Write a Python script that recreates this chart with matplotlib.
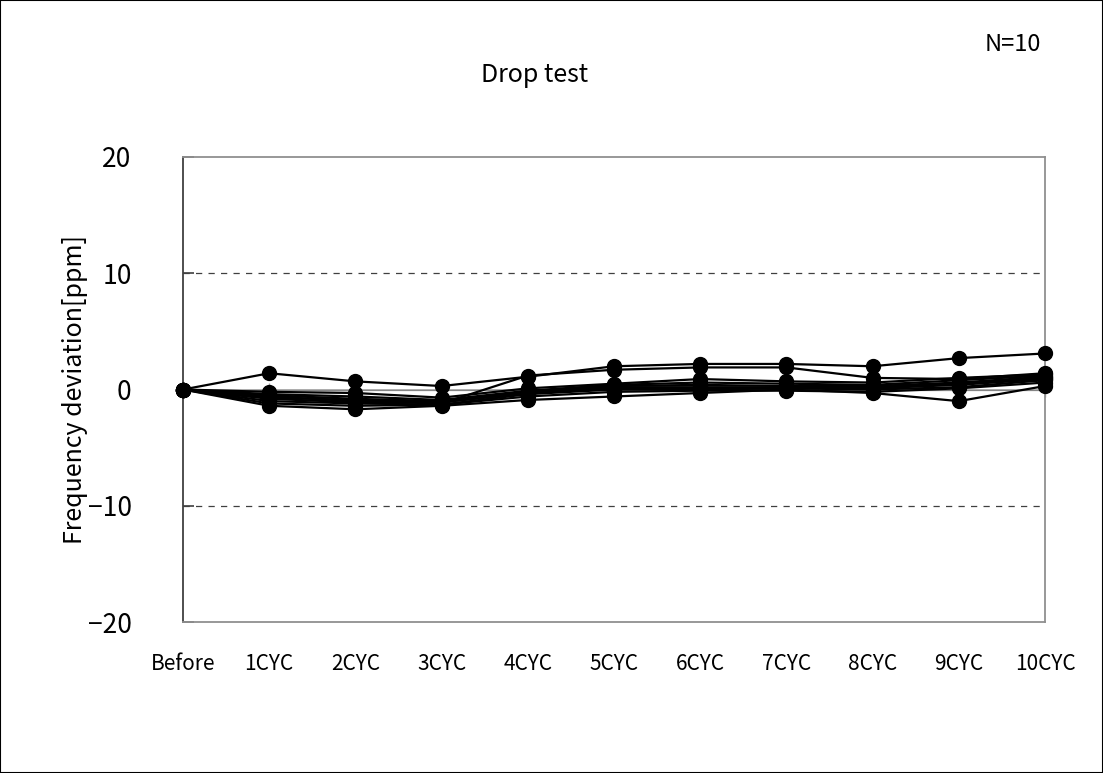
import matplotlib
matplotlib.use("Agg")
from matplotlib import pyplot as plt
from matplotlib.patches import Rectangle

plt.rcParams["font.family"] = ["Noto Sans CJK JP", "DejaVu Sans"]

categories = ["Before", "1CYC", "2CYC", "3CYC", "4CYC", "5CYC",
              "6CYC", "7CYC", "8CYC", "9CYC", "10CYC"]

# frequency deviation [ppm] per sample
s1 = [0, 1.4, 0.7, 0.3, 1.1, 2.0, 2.2, 2.2, 2.0, 2.7, 3.1]
s2 = [0, -0.6, -1.0, -1.2, 1.2, 1.7, 1.9, 1.9, 1.0, 0.9, 1.4]
s3 = [0, -1.4, -1.7, -1.4, -0.9, -0.6, -0.3, 0.0, -0.3, -1.0, 0.3]
s4 = [0, -0.2, -0.3, -0.7, 0.1, 0.5, 0.9, 0.7, 0.6, 1.0, 1.3]
s5 = [0, -0.4, -0.6, -0.9, -0.1, 0.4, 0.6, 0.5, 0.4, 0.8, 1.2]
s6 = [0, -0.5, -0.8, -1.0, -0.2, 0.3, 0.4, 0.3, 0.3, 0.6, 1.1]
s7 = [0, -0.7, -0.9, -1.1, -0.3, 0.2, 0.2, 0.2, 0.2, 0.5, 1.0]
s8 = [0, -0.8, -1.1, -1.1, -0.3, 0.1, 0.1, 0.1, 0.1, 0.4, 0.9]
s9 = [0, -1.0, -1.2, -1.3, -0.4, 0.0, 0.0, 0.1, 0.0, 0.2, 0.8]
s10 = [0, -1.2, -1.4, -1.3, -0.6, -0.2, -0.1, -0.1, -0.2, 0.1, 0.6]
samples = [s1, s2, s3, s4, s5, s6, s7, s8, s9, s10]

yticks = [-20, -10, 0, 10, 20]

fig = plt.figure(figsize=(11.03, 7.73), dpi=100)
ax = fig.add_axes([0.1659, 0.1953, 0.7815, 0.6016])

x = list(range(len(categories)))
ax.axhline(0, color="#a0a0a0", lw=1.2, zorder=1)
for v in (-10, 10):
    ax.axhline(v, color="#404040", lw=0.9, ls=(0, (5, 5)), zorder=1)

for s in samples:
    ax.plot(x, s, color="black", lw=1.6, marker="o", ms=10,
            clip_on=False, zorder=3)

ax.set_xlim(0, len(categories) - 1)
ax.set_ylim(-20, 20)
ax.set_yticks(yticks)
ax.set_yticklabels([str(v).replace("-", "\u2212") for v in yticks],
                   fontsize=19)
ax.tick_params(axis="y", direction="in", length=8, width=1.2,
               color="#404040", pad=37)
ax.set_xticks(x)
ax.set_xticklabels(categories, fontsize=15)
ax.tick_params(axis="x", length=0, pad=22)

for side in ("top", "right", "bottom"):
    ax.spines[side].set_color("#909090")
    ax.spines[side].set_linewidth(1.3)
ax.spines["left"].set_color("#404040")
ax.spines["left"].set_linewidth(1.3)

# category ticks on the zero line
secax = ax.secondary_xaxis(0.5)
secax.set_xticks(x)
secax.set_xticklabels([])
secax.tick_params(direction="inout", length=10, color="#a0a0a0", width=1)
secax.spines["bottom"].set_visible(False)

ax.set_ylabel("Frequency deviation[ppm]", fontsize=18, labelpad=0)

fig.text(0.485, 0.903, "Drop test", ha="center", va="center", fontsize=18)
fig.text(0.918, 0.942, "N=10", ha="center", va="center", fontsize=17)

fig.patches.append(Rectangle((0, 0), 1, 1, transform=fig.transFigure,
                             fill=False, edgecolor="black", lw=1.5))

fig.savefig("out.png", dpi=100)
